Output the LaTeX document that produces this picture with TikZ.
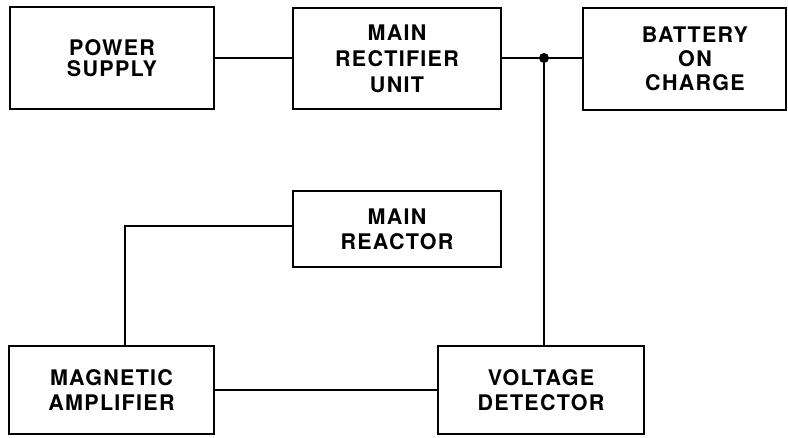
\documentclass[tikz,border=0pt]{standalone}
\usepackage{fontspec}
\setmainfont{TeX Gyre Heros}[LetterSpace=6]
\begin{document}
\begin{tikzpicture}[x=1pt,y=-1pt,
  box/.style={draw, line width=2.6pt, inner sep=0pt, align=center},
  lbl/.style={align=center, inner sep=0pt},
  wire/.style={line width=2.6pt},
  txt/.style={font=\fontsize{21.5}{#1}\selectfont\bfseries},
  txt/.default=25]
\useasboundingbox (0,0) rectangle (788,438);
\node[box, txt=21, minimum width=204pt, minimum height=102pt] (ps) at (112,58) {POWER\\SUPPLY};
\node[box, txt=26, minimum width=208pt, minimum height=101pt] (mr) at (397,58.5) {MAIN\\RECTIFIER\\UNIT};
\node[box, minimum width=203pt, minimum height=102pt] (bat) at (684.5,59) {};
\node[lbl, txt=24] (batl) at (695,59) {BATTERY\\ON\\CHARGE};
\node[box, txt=25, minimum width=208pt, minimum height=76pt] (reac) at (397,229) {MAIN\\REACTOR};
\node[box, txt=25, minimum width=205pt, minimum height=88pt] (mag) at (111.5,390) {MAGNETIC\\AMPLIFIER};
\node[box, txt=25, minimum width=206pt, minimum height=88pt] (vd) at (541,390) {VOLTAGE\\DETECTOR};
\coordinate (j) at (544,58);
\draw[wire] (ps.east) -- (ps.east -| mr.west);
\draw[wire] (j -| mr.east) -- (j -| bat.west);
\draw[wire] (j) -- (j |- vd.north);
\fill (j) circle (5pt);
\draw[wire] ([yshift=3pt]reac.west) -| ([xshift=13.5pt]mag.north);
\draw[wire] (mag.east) -- (mag.east -| vd.west);
\end{tikzpicture}
\end{document}
